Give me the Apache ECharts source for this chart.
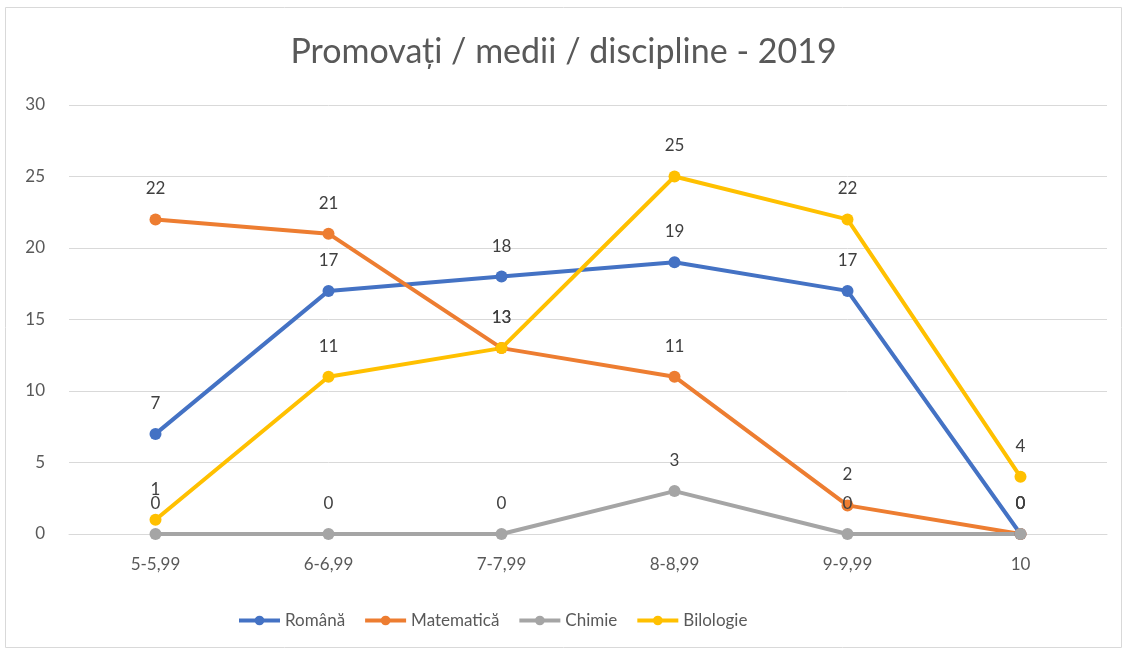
<!DOCTYPE html>
<html><head><meta charset="utf-8">
<script src="https://cdn.jsdelivr.net/npm/echarts@6/dist/echarts.min.js"></script>
<style>html,body{margin:0;padding:0;background:#fff}#c{width:1127px;height:653px}</style>
</head><body><div id="c"></div>
<script>
const categories = ['5-5,99','6-6,99','7-7,99','8-8,99','9-9,99','10'];
const romana = [7,17,18,19,17,0];
const matematica = [22,21,13,11,2,0];
const chimie = [0,0,0,3,0,0];
const bilologie = [1,11,13,25,22,4];
const names = ['Română','Matematică','Chimie','Bilologie'];
const colors = ['#4472C4','#ED7D31','#A5A5A5','#FFC000'];
const font = 'Lato, "Open Sans", sans-serif';
const chart = echarts.init(document.getElementById('c'));
const mk = (name, data, color) => ({
  name, type:'line', data, color,
  symbol:'circle', symbolSize:12,
  lineStyle:{width:4, color},
  itemStyle:{color},
  label:{show:true, position:'top', distance:16, color:'#404040', fontSize:17, fontFamily:font},
  emphasis:{disabled:true}, animation:false
});
chart.setOption({
  animation:false,
  title:{text:'Promovați / medii / discipline - 2019', left:'center', top:30,
    textStyle:{color:'#595959', fontSize:34, fontWeight:'normal', fontFamily:font}},
  graphic:[{type:'rect', shape:{x:5.5,y:7.5,width:1116,height:640}, style:{fill:'none', stroke:'#D9D9D9', lineWidth:1}, silent:true}],
  legend:{bottom:19, left:232, itemWidth:41, itemHeight:12, itemGap:18,
    data:names, lineStyle:{width:4},
    textStyle:{color:'#595959', fontSize:17, fontFamily:font}},
  grid:{left:69, right:20, top:105, bottom:119, containLabel:false},
  xAxis:{type:'category', data:categories, boundaryGap:true,
    axisLine:{lineStyle:{color:'#D9D9D9'}}, axisTick:{show:false},
    axisLabel:{color:'#595959', fontSize:17, fontFamily:font, margin:22}},
  yAxis:{type:'value', min:0, max:30, interval:5,
    axisLine:{show:false}, axisTick:{show:false},
    splitLine:{lineStyle:{color:'#D9D9D9'}},
    axisLabel:{color:'#595959', fontSize:17, fontFamily:font, margin:24}},
  series:[mk(names[0],romana,colors[0]), mk(names[1],matematica,colors[1]), mk(names[2],chimie,colors[2]), mk(names[3],bilologie,colors[3])]
});
</script></body></html>
